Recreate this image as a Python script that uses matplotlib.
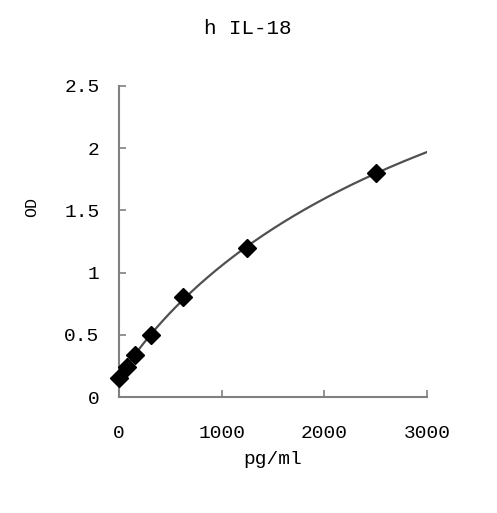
import numpy as np
import matplotlib
matplotlib.use("Agg")
import matplotlib.pyplot as plt

conc = [0, 78, 156, 312, 625, 1250, 2500]
od = [0.15, 0.24, 0.34, 0.50, 0.80, 1.20, 1.80]
xticks = [0, 1000, 2000, 3000]
yticks = [0, 0.5, 1, 1.5, 2, 2.5]
yticklabels = ["0", "0.5", "1", "1.5", "2", "2.5"]

# four-parameter logistic fit (grid over shape, linear solve for asymptotes)
x = np.array(conc, float)
y = np.array(od, float)
best = None
for b in np.linspace(0.5, 2.5, 81):
    for c in np.geomspace(500, 50000, 200):
        g = 1.0 / (1.0 + (x / c) ** b)
        A = np.column_stack([g, 1 - g])
        sol, *_ = np.linalg.lstsq(A, y, rcond=None)
        err = np.sum((A @ sol - y) ** 2)
        if best is None or err < best[0]:
            best = (err, b, c, sol)
_, b, c, (a, d) = best
def fit(v):
    g = 1.0 / (1.0 + (v / c) ** b)
    return a * g + d * (1 - g)

font = "Liberation Mono"
fig = plt.figure(figsize=(4.97, 5.13), dpi=100)
ax = fig.add_axes([119/497, 1-397/513, (427-119)/497, (397-86)/513])

xs = np.linspace(0, 3000, 400)
ax.plot(xs, fit(xs), color="#505050", lw=1.6, zorder=2)
ax.plot(conc, od, linestyle="none", marker="D", color="black", ms=9, zorder=3, clip_on=False)

ax.set_xlim(0, 3000)
ax.set_ylim(0, 2.5)
ax.set_xticks(xticks)
ax.set_yticks(yticks)
ax.set_xticklabels([str(t) for t in xticks], fontfamily=font, fontsize=14)
ax.set_yticklabels(yticklabels, fontfamily=font, fontsize=14)
ax.tick_params(direction="in", length=5, width=1.2, color="#808080")
ax.tick_params(axis="x", pad=20)
ax.tick_params(axis="y", pad=14)
for s in ["top", "right"]:
    ax.spines[s].set_visible(False)
for s in ["left", "bottom"]:
    ax.spines[s].set_color("#808080")
    ax.spines[s].set_linewidth(1.5)

fig.text(248/497, 1-28/513, "h IL-18", ha="center", va="center", fontfamily=font, fontsize=15)
fig.text(273/497, 1-460/513, "pg/ml", ha="center", va="center", fontfamily=font, fontsize=14)
fig.text(32/497, 1-207/513, "OD", ha="center", va="center", rotation=90, fontfamily=font, fontsize=12)

fig.savefig("out.png", dpi=100)
